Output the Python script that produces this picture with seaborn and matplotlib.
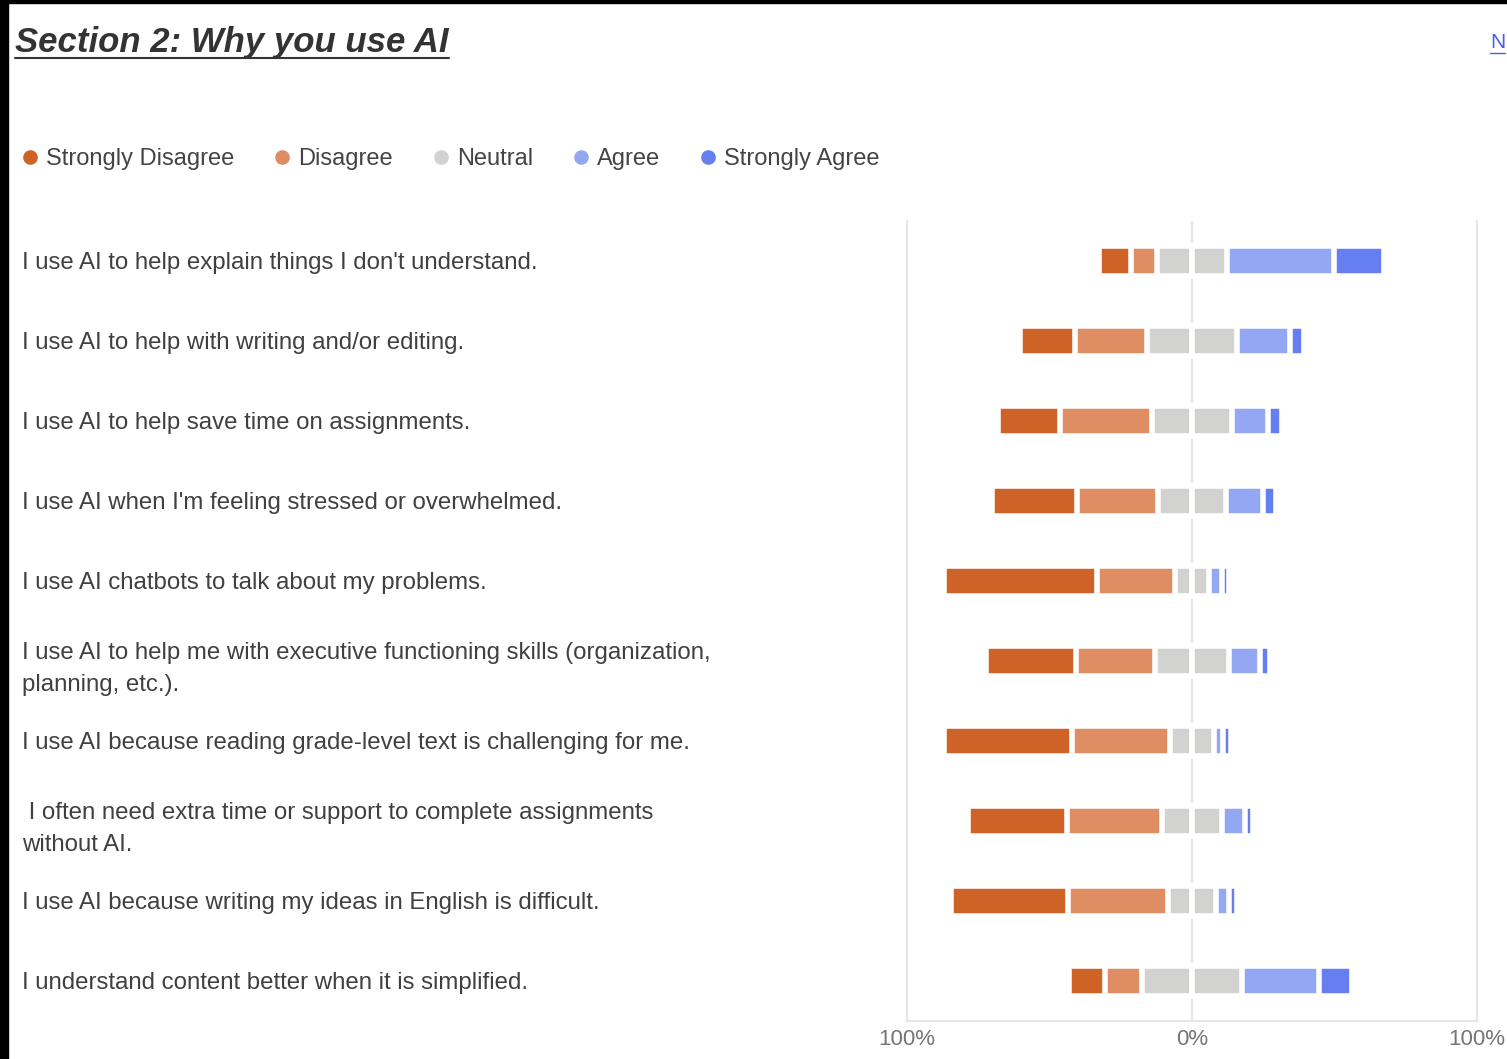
import matplotlib
matplotlib.use("Agg")
import matplotlib.pyplot as plt
from matplotlib.lines import Line2D
from matplotlib.patches import Rectangle
import pandas as pd
import seaborn as sns

# Datos (porcentajes)
statements = [
    "I use AI to help explain things I don't understand.",
    "I use AI to help with writing and/or editing.",
    "I use AI to help save time on assignments.",
    "I use AI when I'm feeling stressed or overwhelmed.",
    "I use AI chatbots to talk about my problems.",
    "I use AI to help me with executive functioning skills (organization,\nplanning, etc.).",
    "I use AI because reading grade-level text is challenging for me.",
    " I often need extra time or support to complete assignments\nwithout AI.",
    "I use AI because writing my ideas in English is difficult.",
    "I understand content better when it is simplified.",
]
levels = ["Strongly Disagree", "Disagree", "Neutral", "Agree", "Strongly Agree"]
colors = ["#cf6227", "#df8d63", "#d2d2d0", "#94a7f3", "#657ef0"]

strongly_disagree = [11.1, 19.4, 21.8, 29.7, 53.5, 31.6, 44.8, 34.7, 41.0, 12.7]
disagree = [9.3, 25.3, 32.2, 28.5, 27.3, 27.7, 34.6, 33.2, 35.0, 13.0]
neutral = [24.3, 31.3, 28.0, 23.7, 12.2, 25.8, 15.1, 21.2, 16.8, 34.9]
agree = [37.6, 18.7, 12.8, 13.1, 4.3, 11.1, 3.2, 8.0, 4.5, 27.0]
strongly_agree = [17.7, 5.0, 4.7, 4.5, 2.7, 3.2, 2.9, 2.8, 2.8, 11.8]

W, H = 1507, 1059

df = pd.DataFrame({
    "statement": statements,
    "sd": strongly_disagree,
    "d": disagree,
    "n": neutral,
    "a": agree,
    "sa": strongly_agree,
})
# Barras divergentes: el neutral se parte en dos mitades alrededor del 0
half = df["n"] / 2
df["left_n"] = -half
df["left_d"] = -(half + df["d"])
df["left_sd"] = -(half + df["d"] + df["sd"])
df["right_n"] = half
df["right_a"] = half + df["a"]
df["right_sa"] = half + df["a"] + df["sa"]

sns.set_theme(style="white")
plt.rcParams['font.family'] = ['Liberation Sans', 'DejaVu Sans']

fig = plt.figure(figsize=(W / 100, H / 100), dpi=100)
ax = fig.add_axes([907 / W, 1 - 1021 / H, 570 / W, 800 / H])

# se dibujan de afuera hacia adentro, cada capa tapa a la anterior
layers = [("left_sd", 0), ("left_d", 1), ("left_n", 2),
          ("right_sa", 4), ("right_a", 3), ("right_n", 2)]
for col, k in layers:
    sns.barplot(data=df, x=col, y="statement", orient="h", color=colors[k],
                saturation=1, edgecolor="white", linewidth=4, width=0.38,
                errorbar=None, ax=ax, zorder=2)

ax.axvline(0, color="#e6e6e6", lw=1.5, zorder=1)
ax.set_xlim(-100, 100)
ax.set_ylim(9.5, -0.5)
ax.set_xticks([-100, 0, 100])
ax.set_xticklabels(["100%", "0%", "100%"])
ax.set_xlabel("")
ax.set_ylabel("")
for s in ["left", "right", "bottom"]:
    ax.spines[s].set_color("#e6e6e6")
    ax.spines[s].set_linewidth(1.5)
ax.spines["top"].set_visible(False)

ax.tick_params(axis="x", length=0, pad=6, labelsize=16, labelcolor="#757575")
ax.tick_params(axis="y", length=0, pad=637, labelsize=17.3, labelcolor="#404040")
for lbl in ax.get_yticklabels():
    lbl.set_horizontalalignment("left")
    lbl.set_linespacing(1.6)

# Leyenda
handles = [Line2D([], [], marker="o", linestyle="", color=c, markersize=9.5)
           for c in colors]
fig.legend(handles, levels, loc="center left",
           bbox_to_anchor=(23.5 / W, 1 - 159 / H), ncol=5, frameon=False,
           fontsize=17, labelcolor="#444444", handlelength=0.55,
           handletextpad=0.4, columnspacing=1.76, borderpad=0, borderaxespad=0)

# Título subrayado
title = fig.text(15 / W, 1 - 52 / H, "Section 2: Why you use AI", fontsize=25,
                 fontweight="bold", fontstyle="italic", color="#333333",
                 va="baseline", ha="left")
fig.canvas.draw()
bb = title.get_window_extent()
fig.add_artist(Line2D([bb.x0 / W, bb.x1 / W], [1 - 58 / H, 1 - 58 / H],
                      transform=fig.transFigure, color="#333333", lw=1.5))

# enlace "N" del borde derecho
link = fig.text(1490 / W, 1 - 48 / H, "N", fontsize=15, color="#4a5cf0",
                va="baseline", ha="left")
fig.canvas.draw()
lb = link.get_window_extent()
fig.add_artist(Line2D([lb.x0 / W, lb.x1 / W], [1 - 53 / H, 1 - 53 / H],
                      transform=fig.transFigure, color="#4a5cf0", lw=1))

# bordes negros de la captura
fig.add_artist(Rectangle((0, 0), 8 / W, 1, transform=fig.transFigure,
                         color="black", zorder=10))
fig.add_artist(Rectangle((0, 1 - 3 / H), 1, 3 / H, transform=fig.transFigure,
                         color="black", zorder=10))

fig.savefig("out.png", dpi=100)
plt.close()
